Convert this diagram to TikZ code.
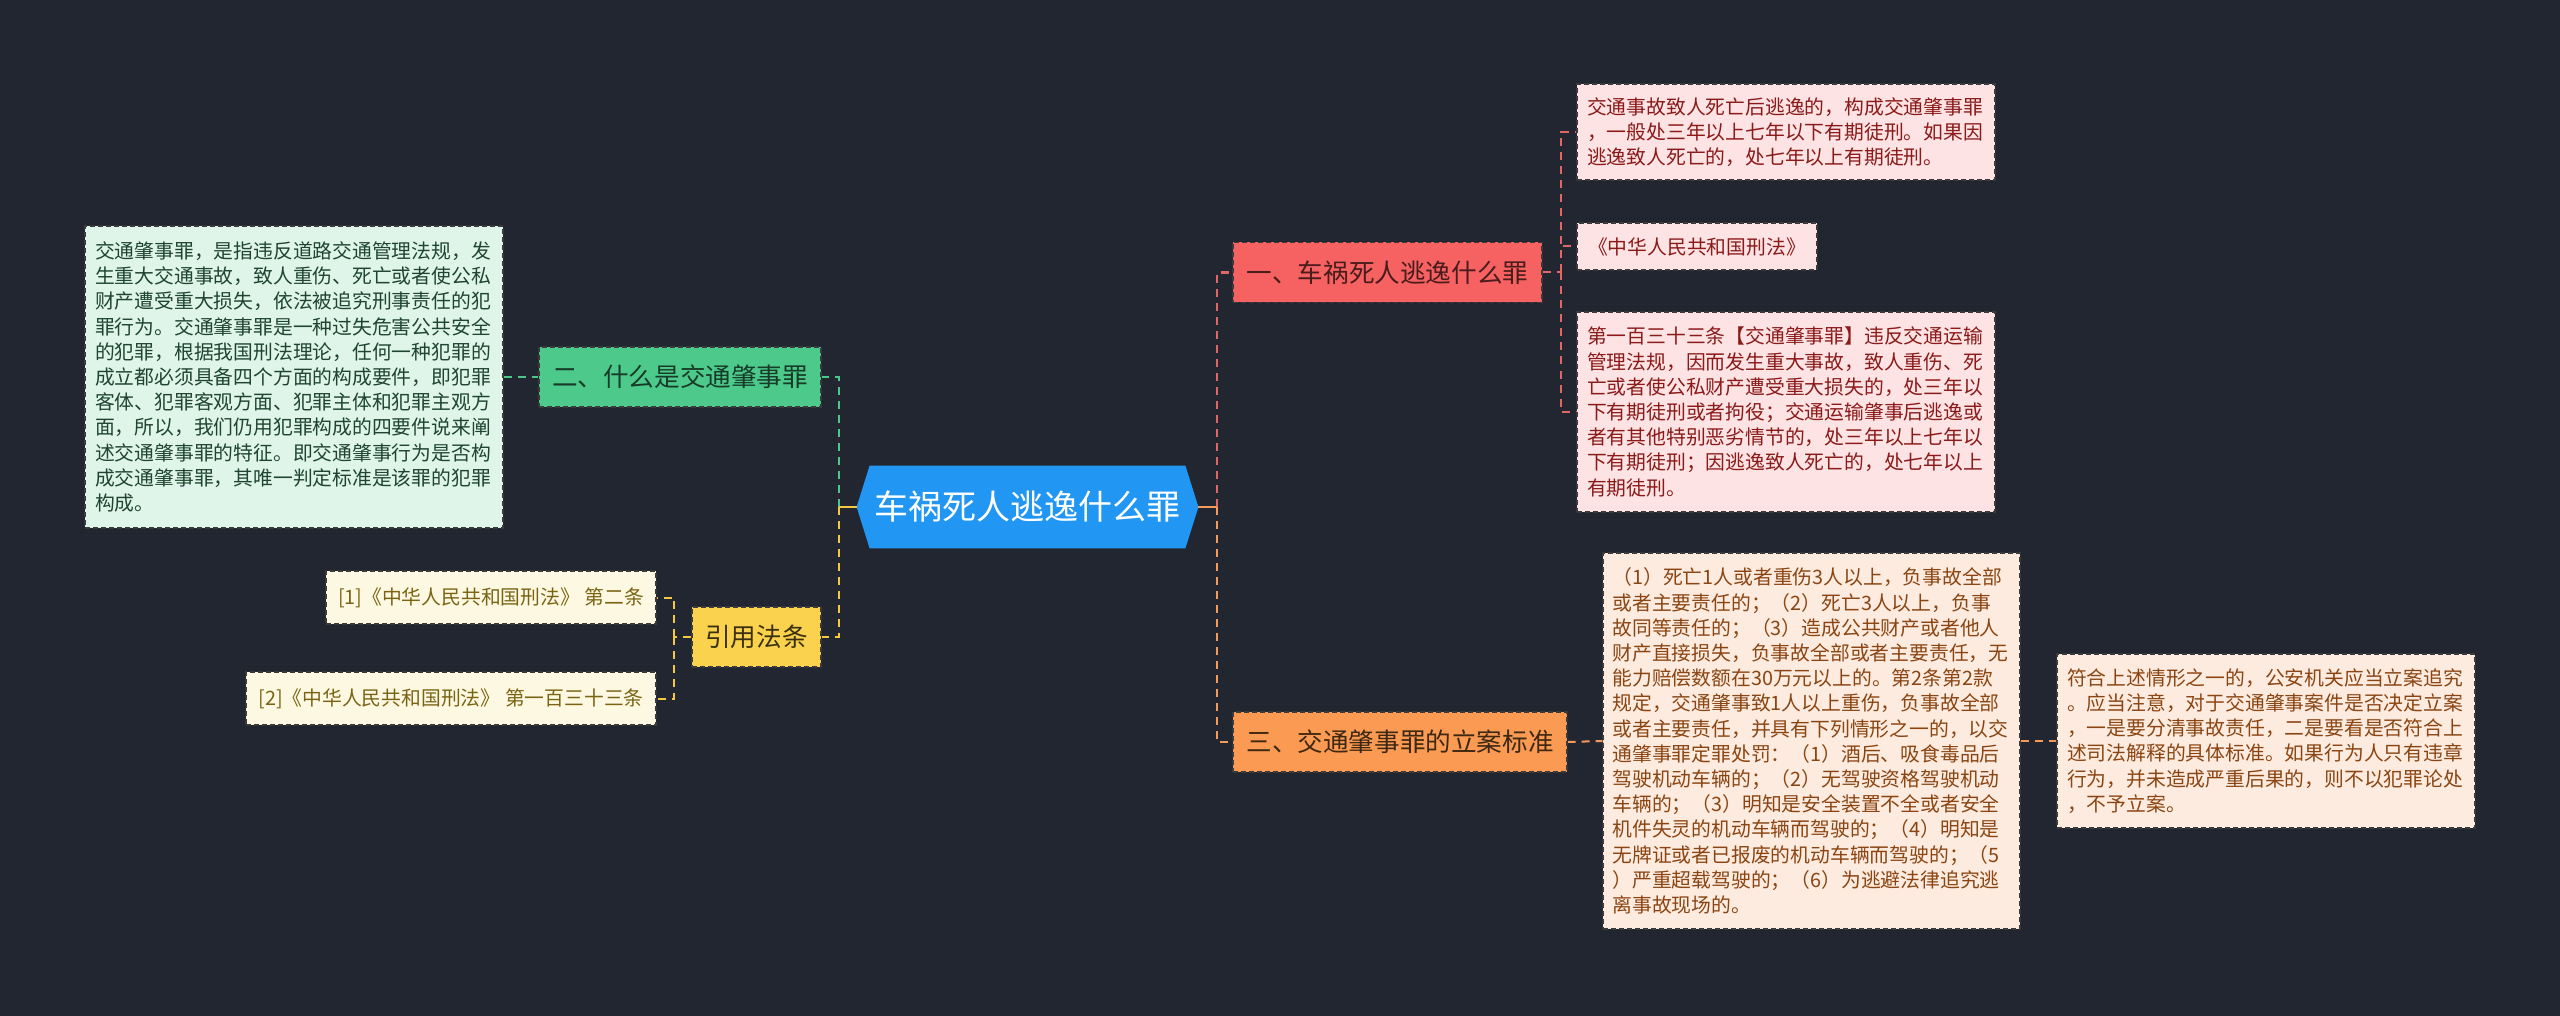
\documentclass[tikz,border=0pt]{standalone}
\usepackage{fontspec}
\newfontfamily\cjk{Noto Sans CJK SC}
\usetikzlibrary{calc,backgrounds}
\definecolor{bg}{HTML}{222631}
\definecolor{rootblue}{HTML}{2196F3}
\definecolor{redb}{HTML}{F66161}
\definecolor{orangeb}{HTML}{FB9A52}
\definecolor{greenb}{HTML}{4CC98B}
\definecolor{yellowb}{HTML}{FBD24E}
\definecolor{redt}{HTML}{4A1C1C}
\definecolor{oranget}{HTML}{3D2812}
\definecolor{greent}{HTML}{173B28}
\definecolor{yellowt}{HTML}{3A3110}
\definecolor{mintf}{HTML}{DFF5EA}
\definecolor{mintt}{HTML}{1F4530}
\definecolor{creamf}{HTML}{FDF8E1}
\definecolor{creamt}{HTML}{7A6414}
\definecolor{pinkf}{HTML}{FDE3E3}
\definecolor{pinkt}{HTML}{8B1A1A}
\definecolor{peachf}{HTML}{FDEBDF}
\definecolor{peacht}{HTML}{8A4512}
\definecolor{bord}{HTML}{3A3A3A}
\definecolor{cg}{HTML}{4CC98A}
\definecolor{cy}{HTML}{F5C842}
\definecolor{cr}{HTML}{E26666}
\definecolor{co}{HTML}{F59A5A}
\tikzset{
  bx/.style={draw=bord, line width=0.6pt, dash pattern=on 2.5pt off 1.5pt, inner sep=0pt},
  leaf/.style={bx, align=left, text width=199pt, font=\cjk\fontsize{9.9pt}{12.6pt}\selectfont},
  reftext/.style={bx, fill=creamf, text=creamt, font=\cjk\fontsize{9.9pt}{12.6pt}\selectfont},
  branch/.style={bx, minimum height=30pt, font=\cjk\fontsize{12.8pt}{15pt}\selectfont},
  link/.style={line width=1.4pt, dash pattern=on 4pt off 3pt},
  sublink/.style={line width=1pt, dash pattern=on 4pt off 3pt},
}
\begin{document}
\begin{tikzpicture}[x=0.5pt,y=-0.5pt]
\useasboundingbox (0,0) rectangle (2560,1016);

% root
\node[minimum width=170.5pt, minimum height=41pt, inner sep=0pt, text=white,
      font=\cjk\fontsize{17pt}{20pt}\selectfont] (root) at (1027.5,507) {车祸死人逃逸什么罪};

% branches
\node[branch, fill=redb, text=redt, minimum width=154.5pt] (b1) at (1387.5,272.5) {一、车祸死人逃逸什么罪};
\node[branch, fill=orangeb, text=oranget, minimum width=167pt] (b3) at (1400,742) {三、交通肇事罪的立案标准};
\node[branch, fill=greenb, text=greent, minimum width=141pt] (b2) at (680,377) {二、什么是交通肇事罪};
\node[branch, fill=yellowb, text=yellowt, minimum width=64.5pt] (b4) at (756.5,637) {引用法条};

% left leaf
\node[leaf, fill=mintf, text=mintt, minimum width=209pt, minimum height=151pt] (t2) at (294,377) {交通肇事罪，是指违反道路交通管理法规，发\\生重大交通事故，致人重伤、死亡或者使公私\\财产遭受重大损失，依法被追究刑事责任的犯\\罪行为。交通肇事罪是一种过失危害公共安全\\的犯罪，根据我国刑法理论，任何一种犯罪的\\成立都必须具备四个方面的构成要件，即犯罪\\客体、犯罪客观方面、犯罪主体和犯罪主观方\\面，所以，我们仍用犯罪构成的四要件说来阐\\述交通肇事罪的特征。即交通肇事行为是否构\\成交通肇事罪，其唯一判定标准是该罪的犯罪\\构成。};

% references
\node[reftext, minimum width=165pt, minimum height=26.5pt] (ref1) at (491,597.5) {[1]《中华人民共和国刑法》 第二条};
\node[reftext, minimum width=205pt, minimum height=26.5pt] (ref2) at (451,698.5) {[2]《中华人民共和国刑法》 第一百三十三条};

% red leaves
\node[leaf, fill=pinkf, text=pinkt, minimum width=209pt, minimum height=48pt] (r1) at (1786,132) {交通事故致人死亡后逃逸的，构成交通肇事罪\\，一般处三年以上七年以下有期徒刑。如果因\\逃逸致人死亡的，处七年以上有期徒刑。};
\node[bx, fill=pinkf, text=pinkt, minimum width=120pt, minimum height=23.5pt, font=\cjk\fontsize{9.9pt}{12.6pt}\selectfont] (r2) at (1697,246.5) {《中华人民共和国刑法》};
\node[leaf, fill=pinkf, text=pinkt, minimum width=209pt, minimum height=100pt] (r3) at (1786,412) {第一百三十三条【交通肇事罪】违反交通运输\\管理法规，因而发生重大事故，致人重伤、死\\亡或者使公私财产遭受重大损失的，处三年以\\下有期徒刑或者拘役；交通运输肇事后逃逸或\\者有其他特别恶劣情节的，处三年以上七年以\\下有期徒刑；因逃逸致人死亡的，处七年以上\\有期徒刑。};

% orange leaves
\node[leaf, fill=peachf, text=peacht, minimum width=208.5pt, minimum height=188pt] (o1) at (1811.5,741) {（1）死亡1人或者重伤3人以上，负事故全部\\或者主要责任的；（2）死亡3人以上，负事\\故同等责任的；（3）造成公共财产或者他人\\财产直接损失，负事故全部或者主要责任，无\\能力赔偿数额在30万元以上的。第2条第2款\\规定，交通肇事致1人以上重伤，负事故全部\\或者主要责任，并具有下列情形之一的，以交\\通肇事罪定罪处罚：（1）酒后、吸食毒品后\\驾驶机动车辆的；（2）无驾驶资格驾驶机动\\车辆的；（3）明知是安全装置不全或者安全\\机件失灵的机动车辆而驾驶的；（4）明知是\\无牌证或者已报废的机动车辆而驾驶的；（5\\）严重超载驾驶的；（6）为逃避法律追究逃\\离事故现场的。};
\node[leaf, fill=peachf, text=peacht, minimum width=209pt, minimum height=87pt] (o2) at (2266,741) {符合上述情形之一的，公安机关应当立案追究\\。应当注意，对于交通肇事案件是否决定立案\\，一是要分清事故责任，二是要看是否符合上\\述司法解释的具体标准。如果行为人只有违章\\行为，并未造成严重后果的，则不以犯罪论处\\，不予立案。};

% junctions
\coordinate (lj) at (839,507);
\coordinate (rj) at (1217,507);
\coordinate (rsj) at (1561,272.5);
\coordinate (yj) at (674,637);

\begin{scope}[on background layer]
  \fill[bg] (0,0) rectangle (2560,1016);
  \fill[rootblue] (root.west) -- ($(root.north west)+(13,0)$) -- ($(root.north east)+(-13,0)$)
     -- (root.east) -- ($(root.south east)+(-13,0)$) -- ($(root.south west)+(13,0)$) -- cycle;
  % left
  \draw[link, cg] (lj) |- (b2.east);
  \draw[link, cy] (lj) |- (b4.east);
  \draw[cy, line width=1.4pt] (root.west) -- (lj);
  \draw[sublink, cg] (t2.east) -- (b2.west);
  \draw[sublink, cy] (b4.west) -- (yj);
  \draw[sublink, cy] (yj) |- (ref1.east);
  \draw[sublink, cy] (yj) |- (ref2.east);
  % right
  \draw[link, cr] (rj) |- (b1.west);
  \draw[link, co] (rj) |- (b3.west);
  \draw[co, line width=1.4pt] (root.east) -- (rj);
  \draw[sublink, cr] (b1.east) -- (rsj);
  \draw[sublink, cr] (rsj) |- (r1.west);
  \draw[sublink, cr] (rsj) |- (r2.west);
  \draw[sublink, cr] (rsj) |- (r3.west);
  \draw[sublink, co] (b3.east) -- (o1.west);
  \draw[sublink, co] (o1.east) -- (o2.west);
\end{scope}
\end{tikzpicture}
\end{document}
